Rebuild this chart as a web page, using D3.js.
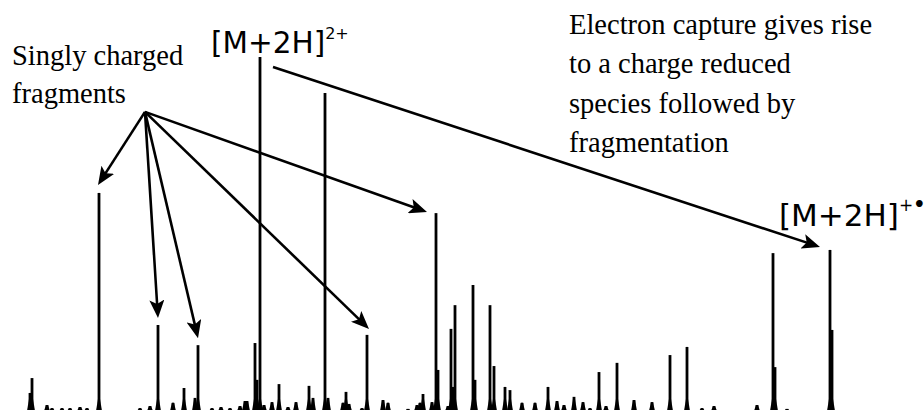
<!DOCTYPE html>
<html>
<head>
<meta charset="utf-8">
<script src="https://cdn.jsdelivr.net/npm/d3@7"></script>
<style>
  body { margin: 0; background: #fff; }
  svg { display: block; }
  .note { font-family: "Liberation Serif", "Times New Roman", serif; font-size: 28.5px; fill: #000; }
  .ion { font-family: "DejaVu Sans", sans-serif; fill: #000; }
</style>
</head>
<body>
<svg id="chart"></svg>
<script>
// m/z of every peak and its relative intensity (%)
const peakMz = [160, 164, 194, 204, 224, 240, 260, 274, 298, 380, 400, 416, 446, 468, 490, 496,
  524, 542, 560, 580, 590, 594, 610, 614, 620, 628, 644, 658, 676, 692, 718, 726, 750, 756,
  786, 792, 798, 824, 834, 866, 876, 916, 934, 940, 946, 964, 972, 976, 996, 1002, 1006, 1010,
  1046, 1050, 1080, 1088, 1110, 1120, 1144, 1170, 1196, 1214, 1228, 1248, 1266, 1280, 1298,
  1312, 1334, 1368, 1404, 1440, 1474, 1504, 1528, 1614, 1646, 1650, 1674, 1760, 1764];
const peakIntensity = [5.1, 9.3, 1.7, 0.8, 0.8, 0.8, 1.1, 0.8, 61.6, 0.8, 1.4, 24.3, 2.3, 6.5, 3.7, 18.6,
  0.8, 1.1, 0.8, 1.4, 2.8, 2.8, 19.2, 8.8, 100, 1.7, 2.5, 7.6, 1.1, 2.5, 7.1, 3.7, 89.8, 3.7,
  2.3, 5.4, 2.0, 0.8, 21.5, 3.1, 2.3, 0.6, 1.7, 2.3, 4.8, 2.5, 55.9, 11.6, 1.4, 23.2, 6.8, 29.9,
  35.6, 8.8, 29.9, 12.7, 6.8, 5.9, 2.3, 2.3, 6.8, 2.8, 1.7, 4.0, 2.5, 0.8, 11.0,
  1.4, 13.6, 3.1, 2.5, 15.8, 18.1, 0.8, 1.4, 1.7, 44.6, 12.4, 0.6, 45.5, 22.9];

// annotations
const fragmentLabel = ['Singly charged', 'fragments'];
const captureLabel = ['Electron capture gives rise', 'to a charge reduced', 'species followed by', 'fragmentation'];
const fragmentSource = { mz: 390, intensity: 84.5 };
const fragmentTargets = [298, 416, 496, 834, 972];
const doubleIonMz = 620;
const reducedIonMz = 1760;

class spectrumPlot {

  constructor(_config) {
    this.config = {
      parentElement: _config.parentElement,
      containerWidth: _config.containerWidth || 924,
      containerHeight: _config.containerHeight || 410
    };
    this.data = peakMz.map((mz, i) => ({ mz: mz, intensity: peakIntensity[i] }));
    this.initVis();
  }

  initVis() {
    let vis = this;

    vis.svg = d3.select(vis.config.parentElement)
      .attr('width', vis.config.containerWidth)
      .attr('height', vis.config.containerHeight);

    vis.x = d3.scaleLinear().domain([100, 1950]).range([0, 925]);
    vis.y = d3.scaleLinear().domain([0, 100]).range([411, 57]);

    vis.svg.append('defs').append('marker')
      .attr('id', 'head')
      .attr('viewBox', '0 0 18 15')
      .attr('refX', 9)
      .attr('refY', 7.5)
      .attr('markerWidth', 18)
      .attr('markerHeight', 15)
      .attr('markerUnits', 'userSpaceOnUse')
      .attr('orient', 'auto')
      .append('path')
      .attr('d', 'M0,0 L18,7.5 L0,15 L4,7.5 Z')
      .attr('fill', '#000');

    vis.updateVis();
  }

  updateVis() {
    let vis = this;

    // peaks: a stick plus a widened foot
    vis.svg.selectAll('.peak')
      .data(vis.data)
      .enter()
      .append('line')
      .attr('class', 'peak')
      .attr('x1', d => vis.x(d.mz))
      .attr('x2', d => vis.x(d.mz))
      .attr('y1', vis.y(0))
      .attr('y2', d => vis.y(d.intensity))
      .attr('stroke', '#000')
      .attr('stroke-width', 2.8);

    vis.svg.selectAll('.foot')
      .data(vis.data)
      .enter()
      .append('path')
      .attr('class', 'foot')
      .attr('d', d => {
        const cx = vis.x(d.mz), b = vis.y(0);
        const h = Math.min(b - vis.y(d.intensity), 12);
        return `M${cx - 3},${b} L${cx - 1},${b - h} L${cx + 1},${b - h} L${cx + 3},${b} Z`;
      })
      .attr('fill', '#000');

    // arrow shortened so the marker tip lands on the target
    const arrow = (x0, y0, x1, y1) => {
      const len = Math.hypot(x1 - x0, y1 - y0);
      const ux = (x1 - x0) / len, uy = (y1 - y0) / len;
      vis.svg.append('line')
        .attr('x1', x0).attr('y1', y0)
        .attr('x2', x1 - ux * 9).attr('y2', y1 - uy * 9)
        .attr('stroke', '#000')
        .attr('stroke-width', 2.6)
        .attr('marker-end', 'url(#head)');
    };

    const top = mz => vis.y(vis.data.find(d => d.mz === mz).intensity);
    const sx = vis.x(fragmentSource.mz), sy = vis.y(fragmentSource.intensity);
    const tipOffset = { 298: [-1, -8], 416: [0, -7], 496: [0, -7], 834: [2, -6], 972: [-9, -1] };
    fragmentTargets.forEach(mz => {
      const o = tipOffset[mz];
      arrow(sx, sy, vis.x(mz) + o[0], top(mz) + o[1]);
    });

    arrow(vis.x(doubleIonMz) + 13, top(doubleIonMz) + 10, vis.x(reducedIonMz) - 10, top(reducedIonMz) - 3);

    vis.svg.append('text')
      .attr('class', 'note')
      .selectAll('tspan')
      .data(fragmentLabel)
      .enter()
      .append('tspan')
      .attr('x', 12)
      .attr('y', (d, i) => 65 + i * 38)
      .text(d => d);

    vis.svg.append('text')
      .attr('class', 'note')
      .selectAll('tspan')
      .data(captureLabel)
      .enter()
      .append('tspan')
      .attr('x', 569)
      .attr('y', (d, i) => 34 + i * 39.3)
      .text(d => d);

    const ion1 = vis.svg.append('text')
      .attr('class', 'ion')
      .attr('x', vis.x(doubleIonMz) - 49)
      .attr('y', top(doubleIonMz) - 4)
      .style('font-size', '29.5px');
    ion1.append('tspan').text('[M+2H]');
    ion1.append('tspan').attr('dy', -14).style('font-size', '16px').text('2+');

    const ion2 = vis.svg.append('text')
      .attr('class', 'ion')
      .attr('x', vis.x(reducedIonMz) - 51)
      .attr('y', top(reducedIonMz) - 24)
      .style('font-size', '31px');
    ion2.append('tspan').text('[M+2H]');
    ion2.append('tspan').attr('dy', -15).style('font-size', '17px').text('+');
    ion2.append('tspan').style('font-size', '19px').style('font-weight', 'bold').text('•');

    vis.renderVis();
  }

  renderVis() {
    let vis = this;
  }
}

new spectrumPlot({ parentElement: '#chart' });
</script>
</body>
</html>
